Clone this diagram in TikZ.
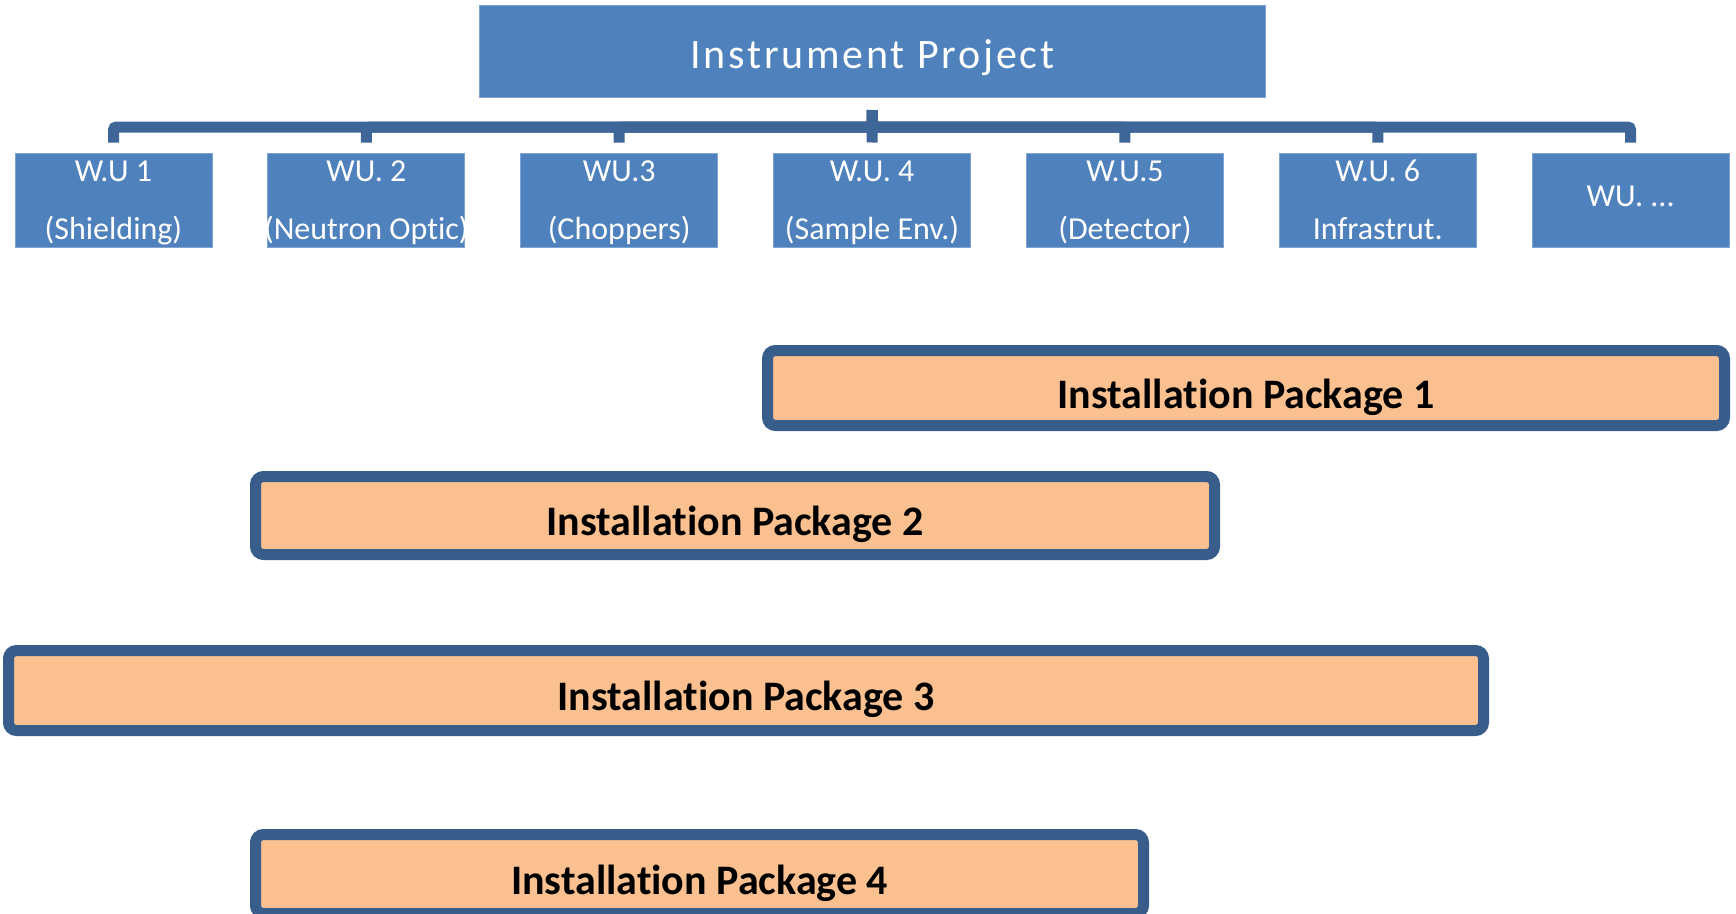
\documentclass[tikz,border=0pt]{standalone}
\usepackage{fontspec}
\setmainfont{Carlito}[Ligatures={NoCommon,NoRare,NoContextual},RawFeature={-liga;-clig;-dlig}]
\newfontfamily\titlefont{Carlito}[LetterSpace=6.6,Ligatures={NoCommon,NoRare,NoContextual}]
\definecolor{boxblue}{HTML}{4F81BD}
\definecolor{boxedge}{HTML}{7FA3D3}
\definecolor{linkblue}{HTML}{3E6698}
\definecolor{pkgedge}{HTML}{385D8A}
\definecolor{pkgfill}{HTML}{FAC090}
\begin{document}
\begin{tikzpicture}[x=1pt,y=-1pt,
  wubox/.style={draw=boxedge, line width=1pt, fill=boxblue,
    minimum width=197pt, minimum height=94pt, inner sep=0pt},
  wutext/.style={anchor=base, text=white, inner sep=0pt,
    font=\fontsize{32}{38}\selectfont},
  link/.style={draw=linkblue, line width=11pt, rounded corners=3pt},
  pkg/.style={draw=pkgedge, fill=pkgfill, line width=11pt,
    rounded corners=8pt, inner sep=0pt, text height=40pt, text depth=0pt,
    font=\fontsize{42}{48}\selectfont\bfseries}
]
\useasboundingbox (0,0) rectangle (1736,913);
\clip (0,0) rectangle (1736,913);

% project root
\node[draw=boxedge, line width=1pt, fill=boxblue, minimum width=786pt,
  minimum height=92pt, inner sep=0pt, text=white,
  font=\titlefont\fontsize{42}{48}\selectfont, text height=33pt, text depth=0pt]
  (top) at (872.3,51.5) {Instrument Project};

% work units
\node[wubox] (wu1) at (113.5,200) {};
\node[wubox] (wu2) at (366.35,200) {};
\node[wubox] (wu3) at (619.2,200) {};
\node[wubox] (wu4) at (872.05,200) {};
\node[wubox] (wu5) at (1124.9,200) {};
\node[wubox] (wu6) at (1377.75,200) {};
\node[wubox] (wu7) at (1630.6,200) {};

\node[wutext] (wu1a) at ([yshift=-29pt]wu1.north) {W.U 1};
\node[wutext] (wu1b) at ([yshift=-87pt]wu1.north) {(Shielding)};
\node[wutext] (wu2a) at ([yshift=-29pt]wu2.north) {WU. 2};
\node[wutext] (wu2b) at ([yshift=-87pt]wu2.north) {(Neutron Optic)};
\node[wutext] (wu3a) at ([yshift=-29pt]wu3.north) {WU.3};
\node[wutext] (wu3b) at ([yshift=-87pt]wu3.north) {(Choppers)};
\node[wutext] (wu4a) at ([yshift=-29pt]wu4.north) {W.U. 4};
\node[wutext] (wu4b) at ([yshift=-87pt]wu4.north) {(Sample Env.)};
\node[wutext] (wu5a) at ([yshift=-29pt]wu5.north) {W.U.5};
\node[wutext] (wu5b) at ([yshift=-87pt]wu5.north) {(Detector)};
\node[wutext] (wu6a) at ([yshift=-29pt]wu6.north) {W.U. 6};
\node[wutext] (wu6b) at ([yshift=-87pt]wu6.north) {Infrastrut.};
\node[wutext] (wu7a) at ([yshift=-54pt]wu7.north) {WU. ...};

% tree connectors
\foreach \k in {1,2,3,5,6,7}
  \draw[link] ([yshift=-12pt]top.south) -- ++(0,17) -| ([yshift=10pt]wu\k.north);
\draw[link] ([yshift=-12pt]top.south) -- ([yshift=10pt]wu4.north);

% installation packages
\node[pkg, minimum width=957pt, minimum height=75pt] (ip1) at (1246,388) {Installation Package 1};
\node[pkg, minimum width=959pt, minimum height=78pt] (ip2) at (735,515.5) {Installation Package 2};
\node[pkg, minimum width=1475pt, minimum height=80pt] (ip3) at (746,690.5) {Installation Package 3};
\node[pkg, minimum width=888pt, minimum height=79pt] (ip4) at (699.5,874) {Installation Package 4};
\end{tikzpicture}
\end{document}
